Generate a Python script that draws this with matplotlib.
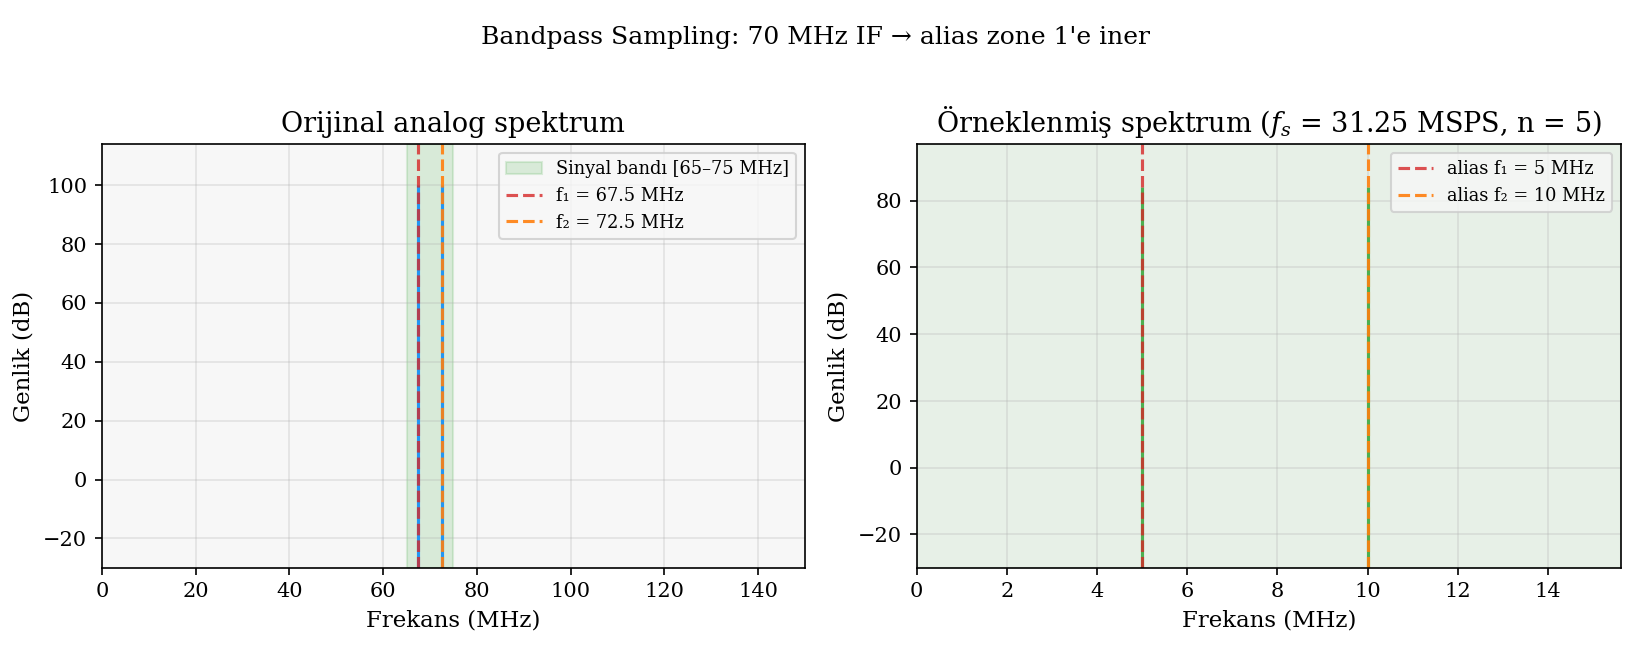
import numpy as np
import matplotlib
matplotlib.use("Agg")
import matplotlib.pyplot as plt

plt.rcParams['font.family'] = 'DejaVu Serif'
plt.rcParams['mathtext.fontset'] = 'dejavuserif'
plt.rcParams['axes.facecolor'] = '#f7f7f7'

# analog tones (MHz) and their levels (dB)
tone_freqs = [67.5, 72.5]
tone_levels = [100.0, 100.0]
band = [65.0, 75.0]

# aliased tones after sampling at fs = 31.25 MSPS
fs = 31.25
alias_freqs = [5.0, 10.0]
alias_levels = [84.0, 84.0]
floor_db = -120.0

fig = plt.figure(figsize=(10.873, 4.307), dpi=150)
ax1 = fig.add_axes([0.0625, 0.121, 0.431, 0.656])
ax2 = fig.add_axes([0.562, 0.121, 0.432, 0.656])

# --- left: original analog spectrum
ax1.axvspan(band[0], band[1], color='tab:green', alpha=0.15, label='Sinyal bandı [65–75 MHz]')
ax1.vlines(tone_freqs, floor_db, tone_levels, color='#2196f3', lw=1.5)
ax1.axvline(tone_freqs[0], color='tab:red', ls='--', lw=1.5, alpha=0.8, label='f₁ = 67.5 MHz')
ax1.axvline(tone_freqs[1], color='tab:orange', ls='--', lw=1.5, alpha=0.9, label='f₂ = 72.5 MHz')
ax1.set_xlim(0, 150)
ax1.set_ylim(-30, 114)
ax1.set_title('Orijinal analog spektrum', fontsize=13)
ax1.set_xlabel('Frekans (MHz)', fontsize=11)
ax1.set_ylabel('Genlik (dB)', fontsize=11)
ax1.grid(True, alpha=0.3)
ax1.legend(loc='upper right', fontsize=8.5)

# --- right: sampled spectrum
ax2.axvspan(0, fs / 2, color='tab:green', alpha=0.08)
ax2.vlines(alias_freqs, floor_db, alias_levels, color='#4caf50', lw=1.5)
ax2.axvline(alias_freqs[0], color='tab:red', ls='--', lw=1.5, alpha=0.8, label='alias f₁ = 5 MHz')
ax2.axvline(alias_freqs[1], color='tab:orange', ls='--', lw=1.5, alpha=0.9, label='alias f₂ = 10 MHz')
ax2.set_xlim(0, fs / 2)
ax2.set_ylim(-30, 97)
ax2.set_title('Örneklenmiş spektrum ($f_s$ = 31.25 MSPS, n = 5)', fontsize=13)
ax2.set_xlabel('Frekans (MHz)', fontsize=11)
ax2.set_ylabel('Genlik (dB)', fontsize=11)
ax2.grid(True, alpha=0.3)
ax2.legend(loc='upper right', fontsize=8.5)

fig.suptitle("Bandpass Sampling: 70 MHz IF → alias zone 1'e iner", fontsize=12, y=0.96)

fig.savefig('out.png', dpi=150)
